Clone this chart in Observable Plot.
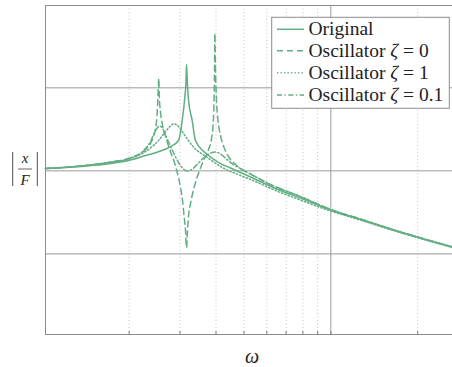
<!DOCTYPE html>
<html><head><meta charset="utf-8">
<script src="https://cdn.jsdelivr.net/npm/d3@7"></script>
<script src="https://cdn.jsdelivr.net/npm/@observablehq/plot@0.6"></script>
<style>body{margin:0;background:#fff}</style>
</head><body><div id="chart"></div>
<script>
// ---- data (ω in decade units, |x/F| amplitude) ----
const originalW = [1.026,1.356,1.723,1.990,2.279,2.569,2.782,2.966,3.054,3.111,3.149,3.161,3.180,3.213,3.308,3.396,3.738,4.147,4.490,5.269,6.693,7.852,10.0,12.67,16.10,20.46,26.4];
const originalA = [1.066,1.127,1.224,1.331,1.529,1.732,1.962,2.318,4.036,7.03,12.25,19.09,12.25,7.03,4.036,2.318,1.572,1.224,1.081,0.842,0.579,0.470,0.337,0.259,0.199,0.155,0.121];

const undampedW = [1.026,1.356,1.723,1.990,2.279,2.371,2.429,2.469,2.498,2.518,2.534,2.544,2.569,2.600,2.673,2.782,2.856,2.942,3.013,3.062,3.099,3.136,3.161,3.186,3.213,3.264,3.396,3.507,3.620,3.768,3.859,3.906,3.937,3.953,3.962,3.984,4.016,4.064,4.147,4.280,4.420,4.674,4.864,5.269,6.180,7.852,10.0,12.67,16.10,20.46,26.4];
const undampedA = [1.066,1.143,1.276,1.406,1.806,2.133,2.590,3.233,4.638,8.076,12.94,8.076,5.04,3.818,2.590,1.708,1.331,0.928,0.629,0.439,0.289,0.191,0.119,0.191,0.289,0.404,0.723,1.008,1.331,1.806,2.450,3.514,7.03,16.16,45.1,16.16,7.03,4.036,2.663,1.857,1.487,1.191,1.066,0.915,0.684,0.490,0.342,0.263,0.200,0.156,0.121];

const criticalW = [1.026,1.356,1.723,1.990,2.371,2.528,2.673,2.782,2.856,2.942,3.086,3.343,3.738,4.147,4.864,5.269,6.693,7.852,9.21,10.0,12.67,16.10,20.46,26.4];
const criticalA = [1.066,1.143,1.259,1.387,1.883,2.318,2.976,3.466,3.684,3.514,2.815,1.935,1.446,1.127,0.878,0.786,0.548,0.445,0.361,0.328,0.255,0.196,0.153,0.119];

const lightW = [1.026,1.356,1.723,1.990,2.279,2.371,2.448,2.508,2.548,2.600,2.695,2.827,2.966,3.086,3.186,3.316,3.451,3.620,3.798,3.984,4.147,4.350,4.563,4.864,5.269,6.180,7.852,10.0,12.67,16.10,20.46,26.4];
const lightA = [1.066,1.143,1.276,1.406,1.857,2.254,2.893,3.324,3.466,3.324,2.519,1.757,1.259,1.051,0.9945,1.051,1.208,1.427,1.616,1.685,1.594,1.387,1.208,1.066,0.915,0.684,0.490,0.342,0.263,0.200,0.156,0.121];

const seriesNames = ["Original", "Oscillator ζ = 0", "Oscillator ζ = 1", "Oscillator ζ = 0.1"];
const minorTicksX = [2,3,4,5,6,7,8,9,20];
const majorTicksX = [10];
const majorTicksY = [0.1, 1, 10];

// ---- styling ----
const green = "#62ad83";
const dashes = ["none", "6,4", "1.3,2.2", "5,2.5,1.3,2.5"];
const series = [
  {name: seriesNames[0], w: originalW, a: originalA},
  {name: seriesNames[1], w: undampedW, a: undampedA},
  {name: seriesNames[2], w: criticalW, a: criticalA},
  {name: seriesNames[3], w: lightW, a: lightA}
];

const lineMarks = series.map((s, k) => Plot.line(
  s.w.map((w, i) => ({w, a: s.a[i]})),
  {x: "w", y: "a", stroke: green, strokeWidth: 1.5, strokeDasharray: dashes[k], curve: "monotone-x"}
));

const chart = Plot.plot({
  width: 452, height: 367,
  marginLeft: 45, marginRight: 0, marginTop: 5, marginBottom: 33,
  style: {background: "#fff"},
  x: {type: "log", domain: [1.026, 26.4], axis: null},
  y: {type: "log", domain: [0.0107, 98], axis: null},
  marks: [
    Plot.gridX({ticks: minorTicksX, stroke: "#c4c4c4", strokeOpacity: 1, strokeDasharray: "1,2.5"}),
    Plot.gridX({ticks: majorTicksX, stroke: "#9a9a9a", strokeOpacity: 1}),
    Plot.gridY({ticks: majorTicksY, stroke: "#9a9a9a", strokeOpacity: 1}),
    Plot.axisX({ticks: minorTicksX.concat(majorTicksX), tickSize: 3, dy: -3, tickFormat: () => "", stroke: "#777", label: null}),
    Plot.frame({stroke: "#8c8c8c"}),
    ...lineMarks
  ]
});
document.getElementById("chart").appendChild(chart);

// ---- labels & legend ----
const svg = d3.select(chart);
const serif = "'Liberation Serif', 'DejaVu Serif', serif";

svg.append("text").attr("x", 252).attr("y", 363).attr("text-anchor", "middle")
  .attr("font-family", serif).attr("font-style", "italic").attr("font-size", 20).attr("fill", "#222").text("ω");

const yl = svg.append("g").attr("fill", "#222").attr("font-family", serif).attr("font-style", "italic").attr("font-size", 15);
yl.append("line").attr("x1", 12.7).attr("x2", 12.7).attr("y1", 152).attr("y2", 186).attr("stroke", "#222").attr("stroke-width", 0.8);
yl.append("line").attr("x1", 37.3).attr("x2", 37.3).attr("y1", 152).attr("y2", 186).attr("stroke", "#222").attr("stroke-width", 0.8);
yl.append("line").attr("x1", 18).attr("x2", 32).attr("y1", 169).attr("y2", 169).attr("stroke", "#222").attr("stroke-width", 0.7);
yl.append("text").attr("x", 25).attr("y", 163).attr("text-anchor", "middle").text("x");
yl.append("text").attr("x", 25).attr("y", 185).attr("text-anchor", "middle").text("F");

const lg = svg.append("g");
lg.append("rect").attr("x", 271.7).attr("y", 17.3).attr("width", 177.6).attr("height", 91)
  .attr("fill", "#fff").attr("stroke", "#8c8c8c").attr("stroke-width", 1);
const rowsY = [29.3, 50.7, 72.7, 95];
series.forEach((s, k) => {
  lg.append("path").attr("d", `M277,${rowsY[k]}H304`).attr("fill", "none")
    .attr("stroke", green).attr("stroke-width", 1.5).attr("stroke-dasharray", dashes[k]);
  const t = lg.append("text").attr("x", 308.5).attr("y", rowsY[k] + 6).attr("text-anchor", "start")
    .attr("font-family", serif).attr("font-size", 19.5).attr("fill", "#222");
  const parts = s.name.split("ζ");
  t.append("tspan").text(parts[0]);
  if (parts.length > 1) {
    t.append("tspan").attr("font-style", "italic").text("ζ");
    t.append("tspan").text(parts[1]);
  }
});
</script>
</body></html>
